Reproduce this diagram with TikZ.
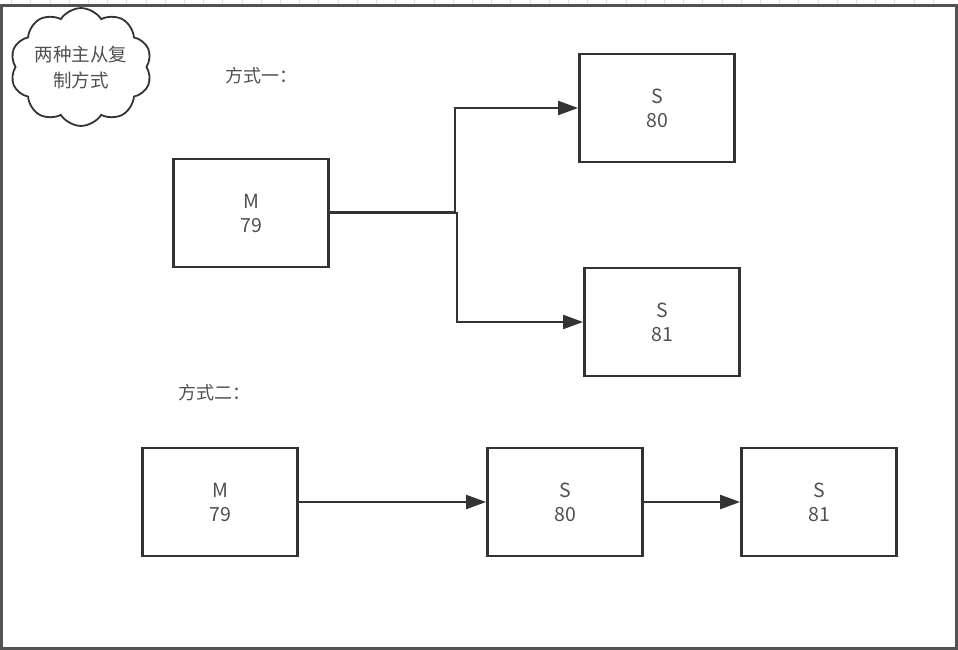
\documentclass[tikz,border=0pt]{standalone}
\usepackage{fontspec}
\setmainfont{Noto Sans CJK SC}
\usetikzlibrary{arrows.meta,shapes.symbols}
\definecolor{ink}{HTML}{333333}
\definecolor{txt}{HTML}{505050}
\tikzset{
  box/.style={draw=ink, line width=2.8pt, minimum width=155pt, minimum height=108pt,
    text=txt, font=\fontsize{19.5}{24}\selectfont, align=center, inner sep=0pt},
  link/.style={draw=ink, line width=2.1pt, -{Triangle[length=20pt,width=14pt]}},
  caption/.style={text=txt, font=\fontsize{18}{22}\selectfont, inner sep=0pt},
}
\begin{document}
\begin{tikzpicture}[x=1pt,y=-1pt]
\useasboundingbox (0,0) rectangle (958,650);
% ruler ticks above the canvas
\foreach \i in {0,...,50}{
  \draw[black!12, line width=0.6pt] ({-27+19.2*\i},0) -- ({-27+19.2*\i},5);
}
% canvas frame
\draw[ink!85, line width=3pt] (1.2,650) -- (1.2,6) -- (956.5,6) -- (956.5,650);
\draw[ink!85, line width=2.4pt] (0,648.5) -- (958,648.5);

% title cloud
\node[cloud, cloud puffs=10, cloud puff arc=115, aspect=1.3, draw=ink, line width=1.8pt,
  minimum width=140pt, minimum height=108pt, text=txt, align=center,
  font=\fontsize{18.5}{26}\selectfont, inner sep=0pt] (title) at (81,67) {两种主从复\\制方式};

% scheme one: one master, two slaves
\node[caption] (cap1) at (261,76) {方式一：};
\node[box] (m1) at (251,213) {M\\79};
\node[box] (s80a) at (657,108) {S\\80};
\node[box] (s81a) at (662,322) {S\\81};
\coordinate (j1) at (455,212);
\coordinate (j2) at (457,213);
\draw[link] (m1.east |- j1) -- (j1) |- (s80a.west);
\draw[link] (m1.east |- j2) -- (j2) |- (s81a.west);

% scheme two: chained replication
\node[caption] (cap2) at (214,393) {方式二：};
\node[box] (m2) at (220,502) {M\\79};
\node[box] (s80b) at (565,502) {S\\80};
\node[box] (s81b) at (819,502) {S\\81};
\draw[link] (m2) -- (s80b);
\draw[link] (s80b) -- (s81b);
\end{tikzpicture}
\end{document}
